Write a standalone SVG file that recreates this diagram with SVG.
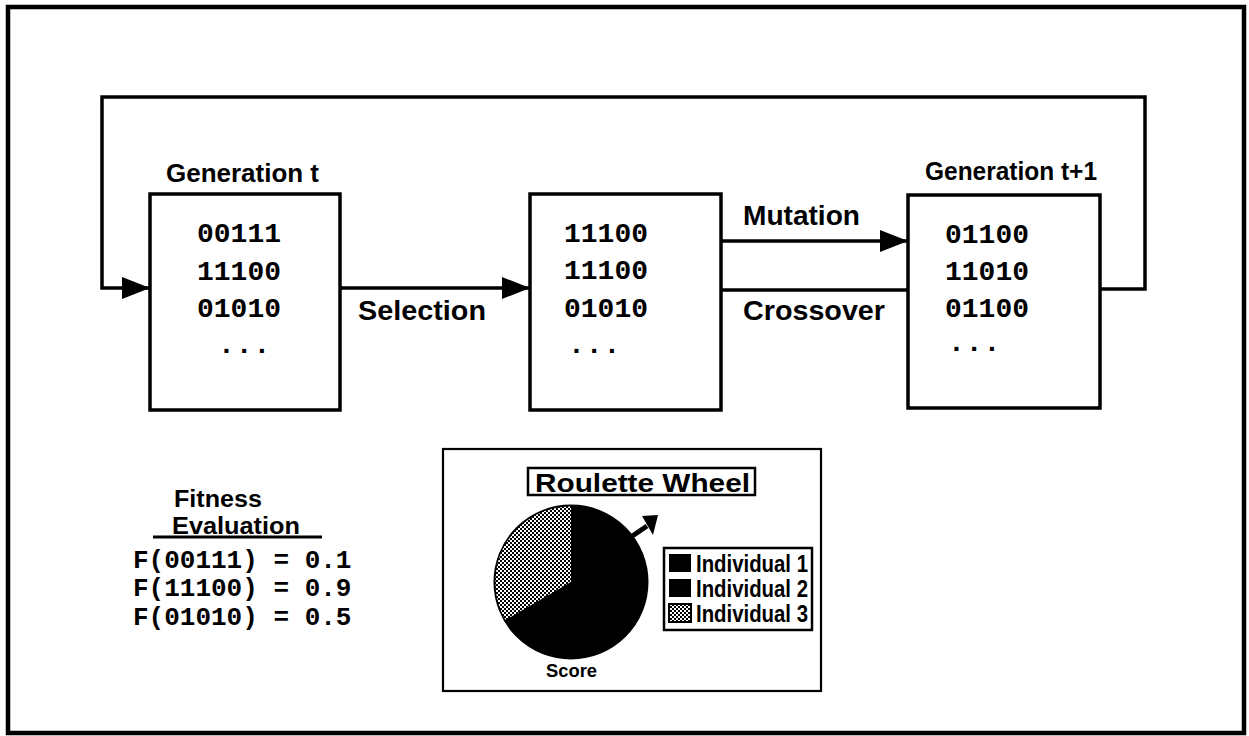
<svg xmlns="http://www.w3.org/2000/svg" width="1249" height="736" viewBox="0 0 1249 736">
<style>
.box{fill:#fff;stroke:#000;stroke-width:3.5}
.ln{fill:none;stroke:#000;stroke-width:3.5}
.lbl{font-family:"Liberation Sans",Arial,Helvetica,sans-serif;font-weight:bold;fill:#000}
.code{font-family:"Liberation Mono","Courier New",monospace;font-weight:bold;font-size:28px;fill:#000}
.fx{font-family:"Liberation Mono","Courier New",monospace;font-weight:bold;font-size:26px;fill:#000}
</style>
<defs>
<marker id="arr" markerUnits="userSpaceOnUse" markerWidth="30" markerHeight="24" refX="28" refY="11" orient="auto">
<path d="M0,0 L28,11 L0,22 Z" fill="#000"/>
</marker>
<pattern id="dots" patternUnits="userSpaceOnUse" width="4" height="4">
<rect width="4" height="4" fill="#fff"/>
<rect x="0" y="0" width="2" height="2" fill="#000"/>
<rect x="2" y="2" width="2" height="2" fill="#000"/>
</pattern>
</defs>
<rect x="0" y="0" width="1249" height="736" fill="#fff"/>
<rect x="8" y="7" width="1236" height="726" fill="none" stroke="#000" stroke-width="4.5"/>

<g id="connectors">
<path class="ln" d="M1100,289 H1145 V97 H102 V288 H150" marker-end="url(#arr)"/>
<path class="ln" d="M340,288 H530" marker-end="url(#arr)"/>
<path class="ln" d="M721,241 H908" marker-end="url(#arr)"/>
<path class="ln" d="M721,290 H908"/>
<path class="ln" d="M663,266 L721,290 L663,315"/>
<path class="ln" d="M940,273 L908,290 L940,307"/>
<text class="lbl" x="358" y="320" font-size="27" textLength="128" lengthAdjust="spacingAndGlyphs">Selection</text>
<text class="lbl" x="743" y="225" font-size="27" textLength="117" lengthAdjust="spacingAndGlyphs">Mutation</text>
<text class="lbl" x="743" y="320" font-size="27" textLength="142" lengthAdjust="spacingAndGlyphs">Crossover</text>
</g>

<g id="gen_t">
<text class="lbl" x="166" y="182" font-size="26" textLength="153" lengthAdjust="spacingAndGlyphs">Generation t</text>
<rect class="box" x="150" y="194" width="190" height="216"/>
<text class="code" x="197" y="242">00111</text>
<text class="code" x="197" y="280">11100</text>
<text class="code" x="197" y="317">01010</text>
<text class="code" x="218" y="353" letter-spacing="1">...</text>
</g>

<g id="selected">
<rect class="box" x="530" y="194" width="191" height="216"/>
<text class="code" x="564" y="242">11100</text>
<text class="code" x="564" y="279">11100</text>
<text class="code" x="564" y="317">01010</text>
<text class="code" x="568" y="353" letter-spacing="1">...</text>
</g>

<g id="gen_t1">
<text class="lbl" x="925" y="180" font-size="26" textLength="172" lengthAdjust="spacingAndGlyphs">Generation t+1</text>
<rect class="box" x="908" y="195" width="192" height="213"/>
<text class="code" x="945" y="243">01100</text>
<text class="code" x="945" y="280">11010</text>
<text class="code" x="945" y="317">01100</text>
<text class="code" x="948" y="351" letter-spacing="1">...</text>
</g>

<g id="fitness">
<text class="lbl" x="174" y="507" font-size="23" textLength="88" lengthAdjust="spacingAndGlyphs">Fitness</text>
<text class="lbl" x="172" y="534" font-size="23" textLength="128" lengthAdjust="spacingAndGlyphs">Evaluation</text>
<line x1="153" y1="537" x2="322" y2="537" stroke="#000" stroke-width="3"/>
<text class="fx" x="133" y="568">F(00111) = 0.1</text>
<text class="fx" x="133" y="596">F(11100) = 0.9</text>
<text class="fx" x="133" y="625">F(01010) = 0.5</text>
</g>

<g id="roulette">
<rect x="443" y="449" width="378" height="242" fill="#fff" stroke="#000" stroke-width="2.2"/>
<rect x="528" y="468" width="227" height="27" fill="#fff" stroke="#000" stroke-width="2.5"/>
<text class="lbl" x="535" y="492" font-size="26" textLength="215" lengthAdjust="spacingAndGlyphs">Roulette Wheel</text>
<circle cx="571" cy="582" r="76.5" fill="#000"/>
<path d="M571,582 L571,505.5 A76.5,76.5 0 0 0 504.7,620.3 Z" fill="url(#dots)"/>
<circle cx="571" cy="582" r="76.5" fill="none" stroke="#000" stroke-width="2"/>
<line x1="625" y1="541" x2="647" y2="526" stroke="#000" stroke-width="5"/>
<path d="M658,515 L642,516 L653,535 Z" fill="#000"/>
<rect x="664" y="548" width="148" height="82" fill="#fff" stroke="#000" stroke-width="2.5"/>
<rect x="669" y="554" width="22" height="18" fill="#000"/>
<rect x="669" y="579" width="22" height="18" fill="#000"/>
<rect x="669" y="604" width="22" height="18" fill="url(#dots)" stroke="#000" stroke-width="2"/>
<text class="lbl" x="696" y="572" font-size="24" textLength="112" lengthAdjust="spacingAndGlyphs">Individual 1</text>
<text class="lbl" x="696" y="597" font-size="24" textLength="112" lengthAdjust="spacingAndGlyphs">Individual 2</text>
<text class="lbl" x="696" y="622" font-size="24" textLength="112" lengthAdjust="spacingAndGlyphs">Individual 3</text>
<text class="lbl" x="546" y="677" font-size="19" textLength="51" lengthAdjust="spacingAndGlyphs">Score</text>
</g>
</svg>
